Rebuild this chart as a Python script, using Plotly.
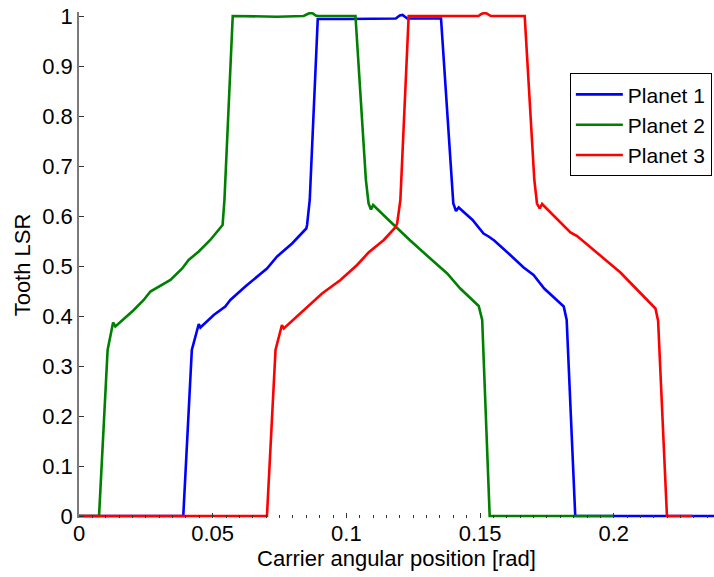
import plotly.graph_objects as go

# ---- data ----
p1_x = [0.0, 0.0390, 0.0422, 0.0448, 0.0454, 0.0504, 0.0547, 0.0566, 0.0622, 0.0703, 0.0741,
        0.0797, 0.0850, 0.0853, 0.0863, 0.0893, 0.1000, 0.1100, 0.1185, 0.1192, 0.1200,
        0.1210, 0.1220, 0.1228, 0.1354, 0.1392, 0.1400, 0.1410, 0.1420, 0.1472, 0.1513,
        0.1532, 0.1553, 0.1609, 0.1663, 0.1700, 0.1740, 0.1813, 0.1824, 0.1856, 0.2400]
p1_y = [0.0, 0.0, 0.332, 0.384, 0.377, 0.402, 0.419, 0.432, 0.459, 0.495, 0.519,
        0.545, 0.575, 0.582, 0.632, 0.994, 0.994, 0.995, 0.995, 0.998, 1.001,
        1.002, 0.999, 0.995, 0.995, 0.672, 0.625, 0.610, 0.617, 0.592, 0.565,
        0.559, 0.551, 0.524, 0.497, 0.482, 0.455, 0.419, 0.392, 0.0, 0.0]

p2_x = [0.0, 0.0075, 0.0107, 0.01275, 0.0136, 0.0205, 0.0242, 0.0267, 0.0342, 0.0386, 0.0410,
        0.0448, 0.0491, 0.0533, 0.0537, 0.0544, 0.0575, 0.0700, 0.0740, 0.0840, 0.0852,
        0.0863, 0.0875, 0.0885, 0.0895, 0.0950, 0.1034, 0.1073, 0.1083, 0.1092, 0.1100,
        0.1158, 0.1221, 0.1239, 0.1295, 0.1352, 0.1377, 0.1426, 0.1495, 0.1508, 0.1536, 0.2000]
p2_y = [0.0, 0.0, 0.332, 0.387, 0.379, 0.412, 0.432, 0.449, 0.472, 0.495, 0.512,
        0.529, 0.552, 0.579, 0.582, 0.632, 1.000, 0.999, 0.9985, 1.000, 1.004,
        1.006, 1.005, 1.001, 1.000, 1.000, 1.000, 0.672, 0.625, 0.613, 0.622,
        0.592, 0.559, 0.551, 0.524, 0.497, 0.485, 0.455, 0.420, 0.392, 0.0, 0.0]

p3_x = [0.0, 0.0703, 0.0735, 0.0759, 0.0766, 0.0840, 0.0884, 0.0909, 0.0978, 0.1040, 0.1083,
        0.1140, 0.1183, 0.1190, 0.1202, 0.1233, 0.1350, 0.1494, 0.1505, 0.1515, 0.1525,
        0.1532, 0.1540, 0.1667, 0.1703, 0.1713, 0.1723, 0.1732, 0.1807, 0.1838, 0.1863,
        0.2000, 0.2025, 0.2074, 0.2156, 0.2166, 0.2199, 0.2293]
p3_y = [0.0, 0.0, 0.332, 0.382, 0.375, 0.412, 0.432, 0.445, 0.472, 0.502, 0.527,
        0.552, 0.577, 0.585, 0.632, 1.000, 1.000, 1.000, 1.004, 1.006, 1.005,
        1.002, 1.000, 1.000, 0.672, 0.625, 0.615, 0.624, 0.585, 0.567, 0.560,
        0.497, 0.487, 0.460, 0.415, 0.390, 0.0, 0.0]

series_names = ["Planet 1", "Planet 2", "Planet 3"]
series_colors = ["#0000FF", "#008000", "#FF0000"]
x_tick_vals = [0, 0.05, 0.1, 0.15, 0.2]
x_tick_text = ["0", "0.05", "0.1", "0.15", "0.2"]
y_tick_vals = [0, 0.1, 0.2, 0.3, 0.4, 0.5, 0.6, 0.7, 0.8, 0.9, 1.0]
y_tick_text = ["0", "0.1", "0.2", "0.3", "0.4", "0.5", "0.6", "0.7", "0.8", "0.9", "1"]

FONT = "Liberation Sans, Arial, Helvetica, sans-serif"

fig = go.Figure()
for xs, ys, name, col in zip([p1_x, p2_x, p3_x], [p1_y, p2_y, p3_y], series_names, series_colors):
    fig.add_trace(go.Scatter(x=xs, y=ys, mode="lines", name=name,
                             line=dict(color=col, width=2.6)))

fig.update_layout(
    width=714, height=577,
    margin=dict(l=79, r=0, t=12, b=59),
    paper_bgcolor="white", plot_bgcolor="white",
    font=dict(family=FONT, size=22, color="black"),
    showlegend=True,
    legend=dict(x=0.773, y=0.879, xanchor="left", yanchor="top",
                bgcolor="white", bordercolor="black", borderwidth=1,
                font=dict(family=FONT, size=21, color="black"),
                tracegroupgap=0, itemwidth=47),
)
fig.update_xaxes(
    range=[0, 0.2375], showgrid=False, zeroline=False, showline=False,
    tickmode="array", tickvals=x_tick_vals, ticktext=x_tick_text,
    ticks="inside", ticklen=5, tickwidth=1, tickcolor="#333333",
    minor=dict(ticks="inside", ticklen=3, tickwidth=1, tickcolor="#333333", dtick=0.005, tick0=0,
               showgrid=False),
    tickfont=dict(family=FONT, size=22, color="black"),
    title=dict(text="Carrier angular position [rad]", font=dict(family=FONT, size=22, color="black"),
               standoff=0),
)
fig.update_yaxes(
    range=[-0.004, 1.008], showgrid=False, zeroline=False,
    showline=True, linecolor="#7a7a7a", linewidth=1.5,
    tickmode="array", tickvals=y_tick_vals, ticktext=y_tick_text,
    ticks="inside", ticklen=5, tickwidth=1, tickcolor="#333333",
    tickfont=dict(family=FONT, size=22, color="black"),
    title=dict(text="Tooth LSR", font=dict(family=FONT, size=22, color="black"), standoff=6),
)

fig.write_html("out.html")
